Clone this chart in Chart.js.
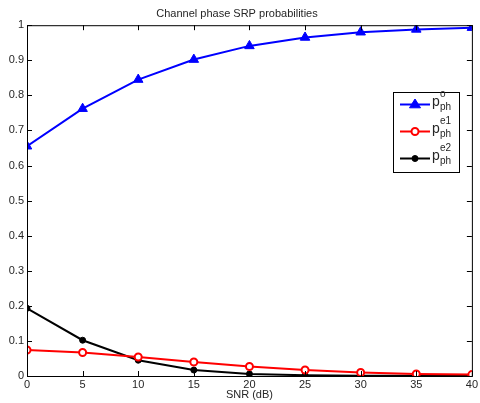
<!DOCTYPE html>
<html>
<head>
<meta charset="utf-8">
<script src="https://cdn.jsdelivr.net/npm/chart.js@4"></script>
<style>
  html, body { margin: 0; padding: 0; background: #fff; }
  #wrap { width: 480px; height: 403px; }
</style>
</head>
<body>
<div id="wrap"><canvas id="srp"></canvas></div>
<script>
// SNR values on the x axis
const snr = [0, 5, 10, 15, 20, 25, 30, 35, 40];
// series
const pOk = [0.655, 0.762, 0.845, 0.902, 0.941, 0.965, 0.980, 0.988, 0.993];
const pErr1 = [0.074, 0.067, 0.054, 0.040, 0.027, 0.017, 0.010, 0.006, 0.004];
const pErr2 = [0.193, 0.102, 0.045, 0.017, 0.006, 0.002, 0.001, 0.0005, 0.0003];
// legend superscripts
const supers = ['o', 'e1', 'e2'];

const toXY = vals => snr.map((x, i) => ({ x: x, y: vals[i] }));
const txt = '#262626';
const font = { family: 'Liberation Sans, Arial, sans-serif', size: 11, weight: 'normal' };

// MATLAB-style box with inward ticks
const boxPlugin = {
  id: 'box',
  afterDraw(chart) {
    const ctx = chart.ctx, a = chart.chartArea;
    const xs = chart.scales.x, ys = chart.scales.y;
    ctx.save();
    ctx.strokeStyle = '#000';
    ctx.lineWidth = 1;
    ctx.strokeRect(a.left + 0.5, a.top + 0.5, a.right - a.left, a.bottom - a.top);
    ctx.beginPath();
    xs.ticks.forEach(t => {
      const px = Math.round(xs.getPixelForValue(t.value)) + 0.5;
      ctx.moveTo(px, a.bottom); ctx.lineTo(px, a.bottom - 5);
      ctx.moveTo(px, a.top); ctx.lineTo(px, a.top + 5);
    });
    ys.ticks.forEach(t => {
      const py = Math.round(ys.getPixelForValue(t.value)) + 0.5;
      ctx.moveTo(a.left, py); ctx.lineTo(a.left + 5, py);
      ctx.moveTo(a.right, py); ctx.lineTo(a.right - 5, py);
    });
    ctx.stroke();
    ctx.restore();
  }
};

// legend with p^sup_ph labels
const legendPlugin = {
  id: 'phLegend',
  afterDraw(chart) {
    const ctx = chart.ctx;
    const x0 = 393, y0 = 92, w = 66, h = 80;
    ctx.save();
    ctx.fillStyle = '#fff';
    ctx.fillRect(x0, y0, w, h);
    ctx.strokeStyle = '#000';
    ctx.lineWidth = 1;
    ctx.strokeRect(x0 + 0.5, y0 + 0.5, w, h);
    chart.data.datasets.forEach((ds, i) => {
      const cy = y0 + 12.5 + i * 27;
      ctx.strokeStyle = ds.borderColor;
      ctx.lineWidth = 2;
      ctx.beginPath();
      ctx.moveTo(400, cy); ctx.lineTo(430, cy);
      ctx.stroke();
      ctx.fillStyle = ds.pointBackgroundColor;
      ctx.lineWidth = ds.pointBorderWidth || 1;
      ctx.beginPath();
      if (ds.pointStyle === 'triangle') {
        const r = ds.pointRadius;
        ctx.moveTo(415, cy - r); ctx.lineTo(415 + r, cy + r * 0.6); ctx.lineTo(415 - r, cy + r * 0.6);
        ctx.closePath();
      } else {
        ctx.arc(415, cy, ds.pointRadius, 0, Math.PI * 2);
      }
      ctx.fill(); ctx.stroke();
      ctx.fillStyle = txt;
      ctx.textBaseline = 'alphabetic';
      ctx.font = '14px Liberation Sans, Arial, sans-serif';
      ctx.fillText('p', 432, cy + 1);
      ctx.font = '10px Liberation Sans, Arial, sans-serif';
      ctx.fillText(supers[i], 440, cy - 8);
      ctx.fillText('ph', 440, cy + 5);
    });
    ctx.restore();
  }
};

new Chart(document.getElementById('srp'), {
  type: 'line',
  data: {
    datasets: [
      { label: 'p_ph^o', data: toXY(pOk), borderColor: '#0000ff', backgroundColor: '#0000ff',
        pointStyle: 'triangle', pointRadius: 5.5, pointBackgroundColor: '#0000ff', pointBorderWidth: 1, borderWidth: 2 },
      { label: 'p_ph^e1', data: toXY(pErr1), borderColor: '#ff0000', backgroundColor: '#ff0000',
        pointStyle: 'circle', pointRadius: 3.5, pointBackgroundColor: '#fff', pointBorderWidth: 2, borderWidth: 2 },
      { label: 'p_ph^e2', data: toXY(pErr2), borderColor: '#000', backgroundColor: '#000',
        pointStyle: 'circle', pointRadius: 3, pointBackgroundColor: '#000', pointBorderWidth: 1, borderWidth: 2 }
    ]
  },
  options: {
    responsive: true,
    maintainAspectRatio: false,
    animation: false,
    layout: { padding: { left: 0, right: 6, top: 0, bottom: 0 } },
    plugins: {
      legend: { display: false },
      tooltip: { enabled: false },
      title: { display: true, text: 'Channel phase SRP probabilities', color: txt, font: font,
        padding: { top: 7, bottom: 5 } }
    },
    scales: {
      x: {
        type: 'linear', min: 0, max: 40,
        ticks: { stepSize: 5, color: txt, font: font, padding: 2, maxRotation: 0 },
        grid: { display: false, drawTicks: false },
        border: { display: false },
        title: { display: true, text: 'SNR (dB)', color: txt, font: font, padding: { top: 0, bottom: 1 } },
        afterFit: s => { s.height = 27; }
      },
      y: {
        min: 0, max: 1,
        ticks: { stepSize: 0.1, color: txt, font: font, padding: 3,
          callback: v => String(Number(v.toFixed(1))) },
        grid: { display: false, drawTicks: false },
        border: { display: false },
        afterFit: s => { s.width = 27; }
      }
    }
  },
  plugins: [boxPlugin, legendPlugin]
});
</script>
</body>
</html>
